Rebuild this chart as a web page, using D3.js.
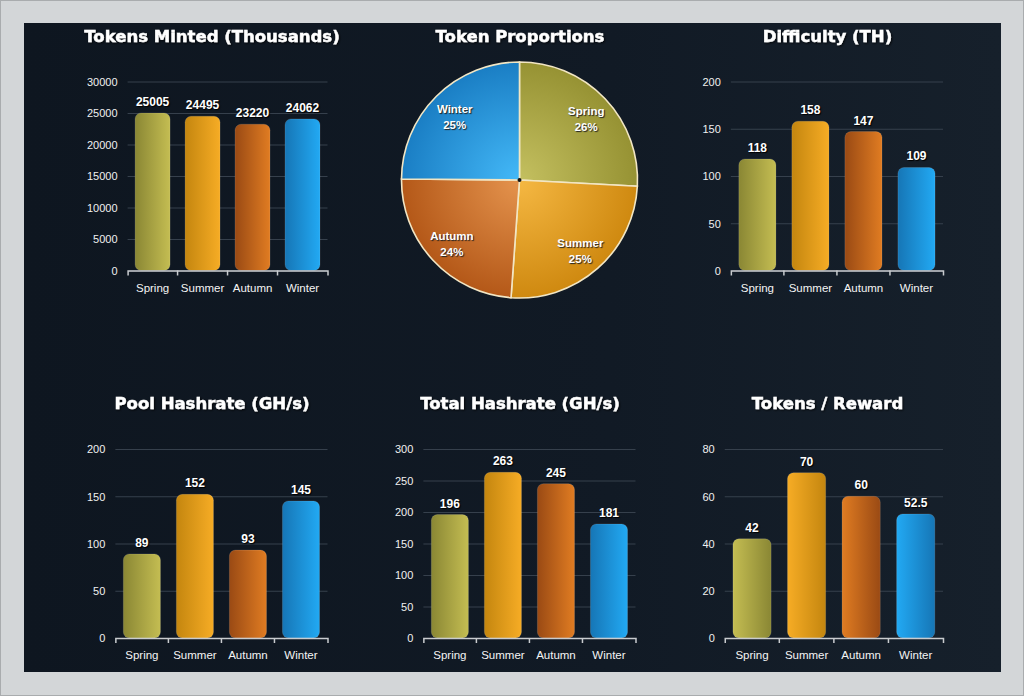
<!DOCTYPE html>
<html>
<head>
<meta charset="utf-8">
<script src="https://cdn.jsdelivr.net/npm/d3@7"></script>
<style>
  body { margin: 0; background: #d3d6d8; }
  svg { display: block; }
  .title { font-family: "DejaVu Sans", sans-serif; font-weight: bold; font-size: 16.5px; fill: #fff; stroke: #fff; stroke-width: 0.4px; text-anchor: middle; filter: url(#shadow); }
  .tick text { font-family: "Liberation Sans", Arial, sans-serif; font-size: 11px; fill: #f0f0f0; }
  .value { font-family: "Liberation Sans", Arial, sans-serif; font-weight: bold; font-size: 12px; fill: #fff; text-anchor: middle; text-shadow: 1px 1px 1px #000; }
  .slice-label { font-family: "Liberation Sans", Arial, sans-serif; font-weight: bold; font-size: 11.5px; fill: #fff; text-anchor: middle; text-shadow: 1px 1px 1px #222; }
</style>
</head>
<body>
<svg width="1024" height="696"></svg>
<script>
var seasons = ["Spring", "Summer", "Autumn", "Winter"];

var tokensMinted = [25005, 24495, 23220, 24062];
var difficulty = [118, 158, 147, 109];
var poolHashrate = [89, 152, 93, 145];
var totalHashrate = [196, 263, 245, 181];
var tokensPerReward = [42, 70, 60, 52.5];

var tokensTicks = [0, 5000, 10000, 15000, 20000, 25000, 30000];
var difficultyTicks = [0, 50, 100, 150, 200];
var poolTicks = [0, 50, 100, 150, 200];
var totalTicks = [0, 50, 100, 150, 200, 250, 300];
var rewardTicks = [0, 20, 40, 60, 80];

// [dark, light] per season
var barColors = [
  ["#8a8734", "#c4bd52"],
  ["#c4860f", "#f6ac25"],
  ["#9a4a14", "#e07c22"],
  ["#1676b6", "#22a9f3"]
];
// [centre, edge] per season
var pieColors = [
  ["#c4c060", "#969233"],
  ["#f5b843", "#cf8910"],
  ["#e5944e", "#b45818"],
  ["#44b9f8", "#1a7ec4"]
];

var svg = d3.select("svg");
var defs = svg.append("defs");

var shadow = defs.append("filter").attr("id", "shadow")
  .attr("x", "-5%").attr("y", "-20%").attr("width", "110%").attr("height", "150%");
shadow.append("feDropShadow").attr("dx", 1).attr("dy", 1).attr("stdDeviation", 1)
  .attr("flood-color", "#000").attr("flood-opacity", 0.8);

// frame + panel
svg.append("rect").attr("x", 0.5).attr("y", 0.5).attr("width", 1023).attr("height", 695)
  .style("fill", "#d3d6d8").style("stroke", "#a9acae");

var bgGrad = defs.append("linearGradient").attr("id", "bg").attr("x1", 0).attr("x2", 1).attr("y1", 0).attr("y2", 0);
bgGrad.append("stop").attr("offset", "0%").attr("stop-color", "#0e1620");
bgGrad.append("stop").attr("offset", "60%").attr("stop-color", "#111a25");
bgGrad.append("stop").attr("offset", "100%").attr("stop-color", "#16202b");

svg.append("rect").attr("x", 24).attr("y", 23).attr("width", 977).attr("height", 649)
  .style("fill", "url(#bg)");

// gradients for bars (normal: dark->light, reversed: light->dark)
barColors.forEach(function(c, i) {
  ["n", "r"].forEach(function(dir) {
    var g = defs.append("linearGradient").attr("id", "bar" + dir + i)
      .attr("x1", 0).attr("x2", 1).attr("y1", 0).attr("y2", 0);
    g.append("stop").attr("offset", "0%").attr("stop-color", dir == "n" ? c[0] : c[1]);
    g.append("stop").attr("offset", "100%").attr("stop-color", dir == "n" ? c[1] : c[0]);
  });
});

var colCenters = [212, 520, 827.5];
var fmt = d3.format("d");

function barChart(opts) {
  var cx = colCenters[opts.col];
  var top = opts.row == 0 ? 81.5 : 449;
  var bottom = top + 189;
  var labelLeft = cx - 125;
  var right = cx + 115.5;

  var g = svg.append("g");

  g.append("text").attr("class", "title")
    .attr("x", cx).attr("y", top - 40)
    .text(opts.title);

  var y = d3.scaleLinear()
    .domain([0, d3.max(opts.ticks)])
    .range([bottom, top]);

  // measure widest tick label to place plot left
  var probe = g.append("g").attr("class", "tick").append("text")
    .text(fmt(d3.max(opts.ticks)));
  var lw = probe.node().getComputedTextLength();
  probe.node().parentNode.remove();
  var left = labelLeft + lw + 10;

  var x = d3.scaleBand()
    .domain(seasons)
    .range([left, right])
    .paddingInner(0.3)
    .paddingOuter(0.15);

  var yAxis = g.append("g")
    .attr("transform", "translate(" + left + ",0)")
    .call(d3.axisLeft(y).tickValues(opts.ticks).tickFormat(fmt)
      .tickSize(-(right - left)).tickPadding(10));
  yAxis.select(".domain").remove();
  yAxis.selectAll(".tick line").style("stroke", "#36404c").style("stroke-width", 1);
  yAxis.selectAll(".tick text").attr("dy", "0.36em");

  g.selectAll(".bar")
    .data(opts.values)
    .enter().append("rect")
    .attr("x", function(d, i) { return x(seasons[i]); })
    .attr("y", function(d) { return y(d); })
    .attr("width", x.bandwidth())
    .attr("height", function(d) { return bottom - y(d); })
    .attr("rx", 6)
    .style("fill", function(d, i) { return "url(#bar" + (opts.reverse ? "r" : "n") + i + ")"; })
    .style("stroke", "rgba(255,255,255,0.12)");

  g.selectAll(".value")
    .data(opts.values)
    .enter().append("text")
    .attr("class", "value")
    .attr("x", function(d, i) { return x(seasons[i]) + x.bandwidth() / 2; })
    .attr("y", function(d) { return y(d) - 7; })
    .text(function(d) { return d; });

  var xAxis = g.append("g")
    .attr("transform", "translate(0," + bottom + ")")
    .call(d3.axisBottom(x).tickSize(0).tickSizeOuter(5).tickPadding(13));
  xAxis.select(".domain").style("stroke", "#c9cccf").style("stroke-width", 1.5);
  xAxis.selectAll(".tick text").style("font-size", "11.5px").style("fill", "#f4f4f4");

  // boundary ticks between categories
  g.selectAll(".sep")
    .data(seasons.slice(1))
    .enter().append("line")
    .attr("x1", function(d) { return x(d) - x.step() * x.paddingInner() / 2; })
    .attr("x2", function(d) { return x(d) - x.step() * x.paddingInner() / 2; })
    .attr("y1", bottom)
    .attr("y2", bottom + 5)
    .style("stroke", "#c9cccf")
    .style("stroke-width", 1.5);
}

barChart({ title: "Tokens Minted (Thousands)", values: tokensMinted, ticks: tokensTicks, col: 0, row: 0 });
barChart({ title: "Difficulty (TH)", values: difficulty, ticks: difficultyTicks, col: 2, row: 0 });
barChart({ title: "Pool Hashrate (GH/s)", values: poolHashrate, ticks: poolTicks, col: 0, row: 1 });
barChart({ title: "Total Hashrate (GH/s)", values: totalHashrate, ticks: totalTicks, col: 1, row: 1 });
barChart({ title: "Tokens / Reward", values: tokensPerReward, ticks: rewardTicks, col: 2, row: 1, reverse: true });

// pie of tokens minted
var pcx = 519.5, pcy = 180, pr = 118;

svg.append("text").attr("class", "title")
  .attr("x", colCenters[1]).attr("y", 41.5)
  .text("Token Proportions");

pieColors.forEach(function(c, i) {
  var g = defs.append("radialGradient").attr("id", "pie" + i)
    .attr("gradientUnits", "userSpaceOnUse")
    .attr("cx", 0).attr("cy", 0).attr("r", pr);
  g.append("stop").attr("offset", "0%").attr("stop-color", c[0]);
  g.append("stop").attr("offset", "100%").attr("stop-color", c[1]);
});

var total = d3.sum(tokensMinted);
var pie = d3.pie().sort(null).value(function(d) { return d; });
var arc = d3.arc().innerRadius(0).outerRadius(pr);
var labelArc = d3.arc().innerRadius(92).outerRadius(92);

var pg = svg.append("g").attr("transform", "translate(" + pcx + "," + pcy + ")");

pg.selectAll("path")
  .data(pie(tokensMinted))
  .enter().append("path")
  .attr("d", arc)
  .style("fill", function(d, i) { return "url(#pie" + i + ")"; })
  .style("stroke", "#f2e6c4")
  .style("stroke-width", 1.6);

pg.append("circle").attr("r", 2).style("fill", "#111");

var lbl = pg.selectAll(".slice-label")
  .data(pie(tokensMinted))
  .enter().append("text")
  .attr("class", "slice-label")
  .attr("transform", function(d) { return "translate(" + labelArc.centroid(d) + ")"; });

lbl.append("tspan").attr("x", 0).attr("y", -2)
  .text(function(d, i) { return seasons[i]; });
lbl.append("tspan").attr("x", 0).attr("y", 14)
  .text(function(d) { return Math.round(d.value / total * 100) + "%"; });
</script>
</body>
</html>
